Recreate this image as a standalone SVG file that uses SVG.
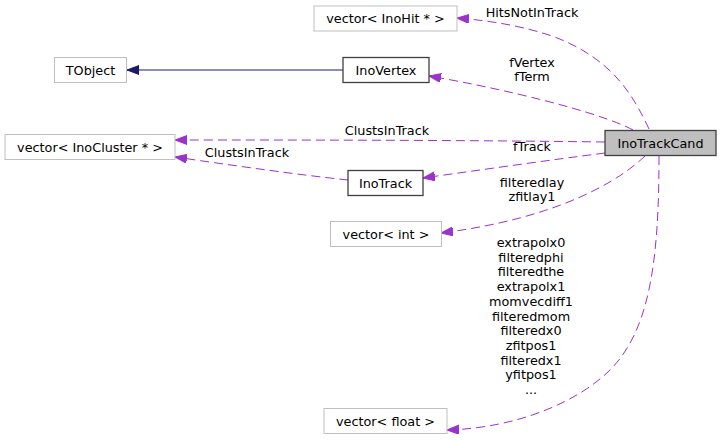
<svg xmlns="http://www.w3.org/2000/svg" width="720" height="440" viewBox="0 0 720 440">
<style>
text{font-family:"DejaVu Sans","Liberation Sans",sans-serif;font-size:12.8px;fill:#000;text-anchor:middle}
.ext{fill:#fff;stroke:#bfbfbf;stroke-width:1}
.doc{fill:#fff;stroke:#404040;stroke-width:1.3}
.cur{fill:#bfbfbf;stroke:#404040;stroke-width:1.3}
.use{fill:none;stroke:#9a32cd;stroke-width:1;stroke-dasharray:9,5;marker-end:url(#ap)}
.inh{fill:none;stroke:#191970;stroke-width:1;marker-end:url(#an)}
</style>
<defs>
<marker id="ap" markerUnits="userSpaceOnUse" markerWidth="14" markerHeight="10" refX="12" refY="4.5" orient="auto"><path d="M0,0 L12,4.5 L0,9 z" fill="#9a32cd" stroke="#9a32cd" stroke-width="1"/></marker>
<marker id="an" markerUnits="userSpaceOnUse" markerWidth="14" markerHeight="10" refX="12" refY="4.5" orient="auto"><path d="M0,0 L12,4.5 L0,9 z" fill="#191970" stroke="#191970" stroke-width="1"/></marker>
</defs>
<g id="connectors">
<path class="inh" d="M343,70 L127,70"/>
<path class="use" d="M649,129 C633,95 612,58 552,36 C525,27 495,21 457,18"/>
<path class="use" d="M633,130 C600,112 500,88 429,76"/>
<path class="use" d="M605,142 C450,140 300,140 175,140"/>
<path class="use" d="M605,153 C550,160 480,170 423,178"/>
<path class="use" d="M348,180 C300,175 230,165 175,157"/>
<path class="use" d="M645,156 C620,180 560,218 441,233"/>
<path class="use" d="M659,156 C659,260 650,330 610,370 C580,400 520,428 447,430"/>
<text x="532" y="16.5">HitsNotInTrack</text>
<text x="532" y="66.5">fVertex</text>
<text x="532" y="80.5">fTerm</text>
<text x="387" y="134.5">ClustsInTrack</text>
<text x="532" y="151">fTrack</text>
<text x="247" y="156.5">ClustsInTrack</text>
<text x="532" y="187">filteredlay</text>
<text x="532" y="201">zfitlay1</text>
<text x="531" y="247">extrapolx0</text>
<text x="531" y="261.7">filteredphi</text>
<text x="531" y="276.4">filteredthe</text>
<text x="531" y="291.1">extrapolx1</text>
<text x="531" y="305.8">momvecdiff1</text>
<text x="531" y="320.5">filteredmom</text>
<text x="531" y="335.2">filteredx0</text>
<text x="531" y="349.9">zfitpos1</text>
<text x="531" y="364.6">filteredx1</text>
<text x="531" y="379.3">yfitpos1</text>
<text x="531" y="394">...</text>
</g>
<g id="InoTrackCand"><rect class="cur" x="605" y="130.5" width="111" height="25"/><text x="660.5" y="147.5">InoTrackCand</text></g>
<g id="TObject"><rect class="ext" x="54.5" y="57.5" width="72" height="25"/><text x="90.5" y="74.5">TObject</text></g>
<g id="InoVertex"><rect class="doc" x="343" y="57.5" width="86" height="25"/><text x="386" y="74.5">InoVertex</text></g>
<g id="vector_InoCluster"><rect class="ext" x="5" y="134.5" width="170" height="25"/><text x="90" y="151.5">vector&lt; InoCluster * &gt;</text></g>
<g id="InoTrack"><rect class="doc" x="348" y="170.5" width="75" height="25"/><text x="385.5" y="187.5">InoTrack</text></g>
<g id="vector_InoHit"><rect class="ext" x="314" y="6" width="143" height="25"/><text x="385.5" y="23">vector&lt; InoHit * &gt;</text></g>
<g id="vector_int"><rect class="ext" x="330.5" y="221.5" width="111" height="25"/><text x="386" y="238.5">vector&lt; int &gt;</text></g>
<g id="vector_float"><rect class="ext" x="324" y="408.5" width="123" height="25"/><text x="385.5" y="425.5">vector&lt; float &gt;</text></g>
</svg>
